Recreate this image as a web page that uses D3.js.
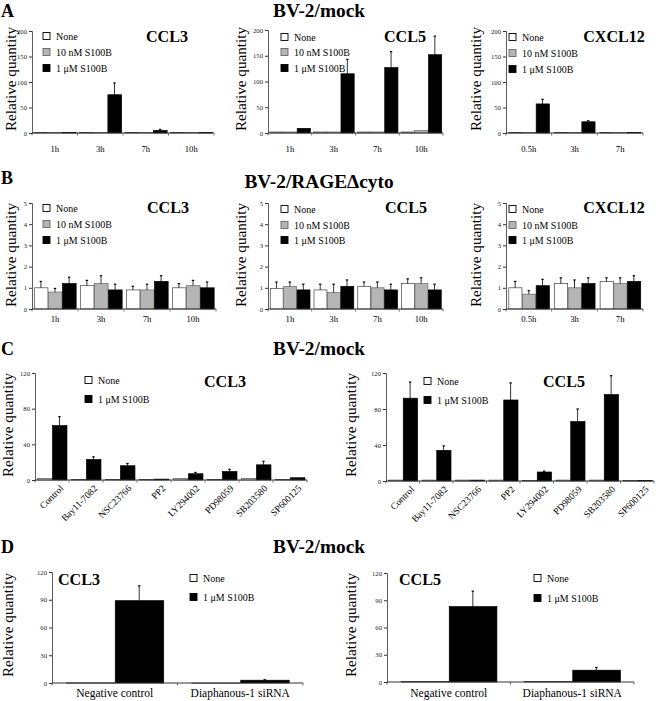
<!DOCTYPE html>
<html><head><meta charset="utf-8">
<script src="https://cdn.jsdelivr.net/npm/d3@7"></script>
<style>
body{margin:0;background:#fff;}
svg{display:block;}
svg text{font-family:"Liberation Serif","Times New Roman",Times,"DejaVu Serif",serif !important;}
</style></head>
<body><svg id="c" width="656" height="701"></svg>
<script>
// ---------- DATA ----------
const times4 = ["1h","3h","7h","10h"];
const times3 = ["0.5h","3h","7h"];
const inhibitors = ["Control","Bay11-7082","NSC23766","PP2","LY294002","PD98059","SB203580","SP600125"];
const sirnaCats = ["Negative control","Diaphanous-1 siRNA"];
const legend3 = ["None","10 nM S100B","1 μM S100B"];
const legend2 = ["None","1 μM S100B"];

const ticksA = [0,50,100,150,200];
const ticksB = [0,1,2,3,4,5];
const ticksC = [0,40,80,120];
const ticksD = [0,30,60,90,120];

// Panel A (BV-2/mock, time course)
const A_CCL3_none = [1,1,1,1],      A_CCL3_none_err = [0,0,0,0];
const A_CCL3_10nM = [1,1,1,1],      A_CCL3_10nM_err = [0,0,0,0];
const A_CCL3_1uM  = [1,75,5,1],     A_CCL3_1uM_err  = [0,23,2,0];
const A_CCL5_none = [2,2,2,2],      A_CCL5_none_err = [0,0,0,0];
const A_CCL5_10nM = [2,2,2,5],      A_CCL5_10nM_err = [0,0,0,0];
const A_CCL5_1uM  = [9,115,127,152],A_CCL5_1uM_err  = [0,28,31,36];
const A_CXCL12_none = [1,1,1],      A_CXCL12_none_err = [0,0,0];
const A_CXCL12_10nM = [1,1,1],      A_CXCL12_10nM_err = [0,0,0];
const A_CXCL12_1uM  = [57,22,1],    A_CXCL12_1uM_err  = [9,2,0];

// Panel B (BV-2/RAGEΔcyto)
const B_CCL3_none = [1.0,1.1,0.9,1.0],   B_CCL3_none_err = [0.3,0.25,0.17,0.2];
const B_CCL3_10nM = [0.8,1.2,0.9,1.1],   B_CCL3_10nM_err = [0.17,0.37,0.27,0.25];
const B_CCL3_1uM  = [1.2,0.9,1.3,1.0],   B_CCL3_1uM_err  = [0.3,0.27,0.27,0.27];
const B_CCL5_none = [0.97,0.9,1.07,1.2], B_CCL5_none_err = [0.3,0.27,0.2,0.22];
const B_CCL5_10nM = [1.07,0.78,1.0,1.2], B_CCL5_10nM_err = [0.2,0.39,0.27,0.27];
const B_CCL5_1uM  = [0.9,1.07,0.9,0.9],  B_CCL5_1uM_err  = [0.27,0.3,0.27,0.27];
const B_CXCL12_none = [1.0,1.2,1.3],     B_CXCL12_none_err = [0.3,0.27,0.17];
const B_CXCL12_10nM = [0.7,1.0,1.2],     B_CXCL12_10nM_err = [0.17,0.37,0.27];
const B_CXCL12_1uM  = [1.1,1.2,1.3],     B_CXCL12_1uM_err  = [0.3,0.27,0.27];

// Panel C (inhibitors)
const C_CCL3_none = [1.5,0.5,0.5,0.5,1.5,0.5,1.5,0.5], C_CCL3_none_err = [0,0,0,0,0,0,0,0];
const C_CCL3_1uM  = [61,23,16,1,7,9.5,17,2.5],         C_CCL3_1uM_err  = [10,3,2.5,0,1.5,2.5,4,0];
const C_CCL5_none = [1,1,1,1,0.5,1,1,0.5],             C_CCL5_none_err = [0,0,0,0,0,0,0,0];
const C_CCL5_1uM  = [92,34,1,90,10,66,96,0.5],         C_CCL5_1uM_err  = [18,5,0,19,1,14,21,0];

// Panel D (siRNA)
const D_CCL3_none = [0.3,0],  D_CCL3_none_err = [0,0];
const D_CCL3_1uM  = [89,3],   D_CCL3_1uM_err  = [16,0.5];
const D_CCL5_none = [0.5,0.5],D_CCL5_none_err = [0,0];
const D_CCL5_1uM  = [83,13],  D_CCL5_1uM_err  = [17,3];

// ---------- DRAWING ----------
const FONT = '"Liberation Serif","Times New Roman",Times,"DejaVu Serif",serif';
const svg = d3.select("#c").attr("font-family",FONT);

// font sizes fitted to the reference's text widths
function fit(str, weight, target){
  const t = svg.append("text").attr("font-size",100).attr("font-weight",weight).text(str);
  const w = t.node().getComputedTextLength(); t.remove();
  return w>0 ? 100*target/w : 10;
}
const FS = {
  ylab: fit("Relative quantity","normal",104),
  leg: fit("10 nM S100B","normal",56),
  title: fit("CCL3","bold",42),
  main: fit("BV-2/mock","bold",92),
  letter: fit("A","bold",13),
  cat: fit("10h","normal",13),
  catD: fit("Negative control","normal",77),
  catC: fit("SB203580","normal",40),
  tick: fit("200","normal",10)
};

const FILL3 = ["#ffffff","#b5b5b5","#000000"];
const STROKE3 = ["#444","#666","#000"];
const FILL2 = ["#ffffff","#000000"];
const STROKE2 = ["#444","#000"];

function chart(o){
  const g = svg.append("g");
  const x = d3.scaleBand().domain(o.cats).range([o.x0,o.x1]).paddingInner(o.pad).paddingOuter(o.pad/2);
  const sub = d3.scaleBand().domain(d3.range(o.series.length)).range([0,x.bandwidth()]);
  const y = d3.scaleLinear().domain([0,o.ymax]).range([o.y0,o.y1]);
  const fills = o.series.length===3?FILL3:FILL2, strokes = o.series.length===3?STROKE3:STROKE2;

  o.series.forEach((s,si)=>{
    const gs = g.append("g");
    gs.selectAll("rect").data(o.cats).join("rect")
      .attr("x",(c)=>x(c)+sub(si)+0.5)
      .attr("width",sub.bandwidth()-0.5)
      .attr("y",(c,i)=>y(s.v[i]))
      .attr("height",(c,i)=>Math.max(0.5,y(0)-y(s.v[i])))
      .attr("fill",fills[si]).attr("stroke",strokes[si]).attr("stroke-width",0.7);
    o.cats.forEach((c,i)=>{
      if(!s.e[i]) return;
      const cx = x(c)+sub(si)+sub.bandwidth()/2;
      gs.append("line").attr("x1",cx).attr("x2",cx).attr("y1",y(s.v[i])).attr("y2",y(s.v[i]+s.e[i]))
        .attr("stroke","#000").attr("stroke-width",0.8);
      gs.append("line").attr("x1",cx-1.2).attr("x2",cx+1.2).attr("y1",y(s.v[i]+s.e[i])).attr("y2",y(s.v[i]+s.e[i]))
        .attr("stroke","#000").attr("stroke-width",1.2);
    });
  });

  const ya = g.append("g").attr("transform",`translate(${o.x0},0)`)
    .call(d3.axisLeft(y).tickValues(o.ticks).tickSize(3).tickPadding(2).tickFormat(d3.format("d")));
  ya.attr("font-family",FONT);
  ya.select(".domain").attr("stroke","#333").attr("stroke-width",0.8);
  ya.selectAll(".tick line").attr("stroke","#333");
  ya.selectAll(".tick text").attr("font-size",FS.tick).attr("fill","#222");

  g.append("line").attr("x1",o.x0).attr("x2",o.x1).attr("y1",y(0)).attr("y2",y(0)).attr("stroke","#333").attr("stroke-width",1);
  const bounds = o.cats.map(c=>x(c)-x.step()*x.paddingInner()/2).concat([o.x1]);
  g.selectAll(".xt").data(bounds).join("line").attr("class","xt")
    .attr("x1",d=>d).attr("x2",d=>d).attr("y1",y(0)).attr("y2",y(0)+2.5).attr("stroke","#333").attr("stroke-width",0.7);

  if(o.rotate){
    g.selectAll(".cl").data(o.cats).join("text").attr("class","cl")
      .attr("transform",c=>`translate(${x(c)+x.bandwidth()/2+12},${y(0)+9}) rotate(-45)`)
      .attr("text-anchor","end").attr("font-size",FS.catC).text(c=>c);
  } else {
    g.selectAll(".cl").data(o.cats).join("text").attr("class","cl")
      .attr("x",c=>x(c)+x.bandwidth()/2).attr("y",o.catY)
      .attr("text-anchor","middle").attr("font-size",o.big?FS.catD:FS.cat).text(c=>c);
  }

  g.append("text").attr("transform",`translate(${o.ylabX},${o.ylabY}) rotate(-90)`)
    .attr("text-anchor","middle").attr("font-size",FS.ylab).text("Relative quantity");

  g.append("text").attr("x",o.titleX).attr("y",o.titleY).attr("text-anchor","middle")
    .attr("font-size",FS.title).attr("font-weight","bold").text(o.title);

  o.series.forEach((s,si)=>{
    const ly = o.legY[si];
    g.append("rect").attr("x",o.legX).attr("y",ly-3.5).attr("width",7).attr("height",7)
      .attr("fill",fills[si]).attr("stroke",si===0?"#000":strokes[si]).attr("stroke-width",0.9);
    g.append("text").attr("x",o.legX+13).attr("y",ly+3.5).attr("font-size",FS.leg).text(s.name);
  });
}

function ser3(n,e,a,b,c2,d){return [{name:legend3[0],v:n,e:e},{name:legend3[1],v:a,e:b},{name:legend3[2],v:c2,e:d}];}
function ser2(n,e,a,b){return [{name:legend2[0],v:n,e:e},{name:legend2[1],v:a,e:b}];}

function txt(x,y,s,fs,anchor){svg.append("text").attr("x",x).attr("y",y).attr("font-size",fs).attr("font-weight","bold")
  .attr("text-anchor",anchor||"start").text(s);}
txt(1,17,"A",FS.letter); txt(319,17,"BV-2/mock",FS.main,"middle");
txt(1,184,"B",FS.letter); txt(319,188,"BV-2/RAGEΔcyto",FS.main,"middle");
txt(1,355,"C",FS.letter); txt(319,355,"BV-2/mock",FS.main,"middle");
txt(1,553,"D",FS.letter); txt(319,553,"BV-2/mock",FS.main,"middle");

chart({cats:times4,series:ser3(A_CCL3_none,A_CCL3_none_err,A_CCL3_10nM,A_CCL3_10nM_err,A_CCL3_1uM,A_CCL3_1uM_err),
  x0:32,x1:214,y0:133,y1:31,ymax:200,ticks:ticksA,pad:0.06,catY:152,
  ylabX:16,ylabY:79,title:"CCL3",titleX:167,titleY:42,legX:43,legY:[36,52,68]});
chart({cats:times4,series:ser3(A_CCL5_none,A_CCL5_none_err,A_CCL5_10nM,A_CCL5_10nM_err,A_CCL5_1uM,A_CCL5_1uM_err),
  x0:268,x1:443,y0:133,y1:30,ymax:200,ticks:ticksA,pad:0.06,catY:152,
  ylabX:246,ylabY:79,title:"CCL5",titleX:405,titleY:42,legX:281,legY:[37,52,68]});
chart({cats:times3,series:ser3(A_CXCL12_none,A_CXCL12_none_err,A_CXCL12_10nM,A_CXCL12_10nM_err,A_CXCL12_1uM,A_CXCL12_1uM_err),
  x0:506,x1:643,y0:133,y1:31,ymax:200,ticks:ticksA,pad:0.1,catY:152,
  ylabX:481,ylabY:79,title:"CXCL12",titleX:614,titleY:42,legX:509,legY:[37,53,69]});

chart({cats:times4,series:ser3(B_CCL3_none,B_CCL3_none_err,B_CCL3_10nM,B_CCL3_10nM_err,B_CCL3_1uM,B_CCL3_1uM_err),
  x0:32,x1:216,y0:309,y1:203,ymax:5,ticks:ticksB,pad:0.08,catY:322,
  ylabX:16,ylabY:255,title:"CCL3",titleX:168,titleY:213,legX:43,legY:[208,224,240]});
chart({cats:times4,series:ser3(B_CCL5_none,B_CCL5_none_err,B_CCL5_10nM,B_CCL5_10nM_err,B_CCL5_1uM,B_CCL5_1uM_err),
  x0:268,x1:443,y0:309,y1:203,ymax:5,ticks:ticksB,pad:0.08,catY:322,
  ylabX:246,ylabY:255,title:"CCL5",titleX:406,titleY:213,legX:281,legY:[209,225,240]});
chart({cats:times3,series:ser3(B_CXCL12_none,B_CXCL12_none_err,B_CXCL12_10nM,B_CXCL12_10nM_err,B_CXCL12_1uM,B_CXCL12_1uM_err),
  x0:506,x1:643,y0:309,y1:203,ymax:5,ticks:ticksB,pad:0.1,catY:322,
  ylabX:481,ylabY:255,title:"CXCL12",titleX:614,titleY:213,legX:509,legY:[209,225,240]});

chart({cats:inhibitors,series:ser2(C_CCL3_none,C_CCL3_none_err,C_CCL3_1uM,C_CCL3_1uM_err),
  x0:35,x1:307,y0:480,y1:373,ymax:120,ticks:ticksC,pad:0.12,rotate:true,
  ylabX:13,ylabY:425,title:"CCL3",titleX:225,titleY:387,legX:85,legY:[380,399]});
chart({cats:inhibitors,series:ser2(C_CCL5_none,C_CCL5_none_err,C_CCL5_1uM,C_CCL5_1uM_err),
  x0:386,x1:654,y0:481,y1:373,ymax:120,ticks:ticksC,pad:0.12,rotate:true,
  ylabX:356,ylabY:425,title:"CCL5",titleX:564,titleY:387,legX:424,legY:[381,400]});

chart({cats:sirnaCats,series:ser2(D_CCL3_none,D_CCL3_none_err,D_CCL3_1uM,D_CCL3_1uM_err),
  x0:52,x1:303,y0:683,y1:572,ymax:120,ticks:ticksD,pad:0.22,catY:697,big:true,
  ylabX:13,ylabY:625,title:"CCL3",titleX:79,titleY:585,legX:190,legY:[578,597]});
chart({cats:sirnaCats,series:ser2(D_CCL5_none,D_CCL5_none_err,D_CCL5_1uM,D_CCL5_1uM_err),
  x0:387,x1:634,y0:682,y1:573,ymax:120,ticks:ticksD,pad:0.22,catY:697,big:true,
  ylabX:356,ylabY:625,title:"CCL5",titleX:420,titleY:585,legX:534,legY:[578,598]});
</script></body></html>
